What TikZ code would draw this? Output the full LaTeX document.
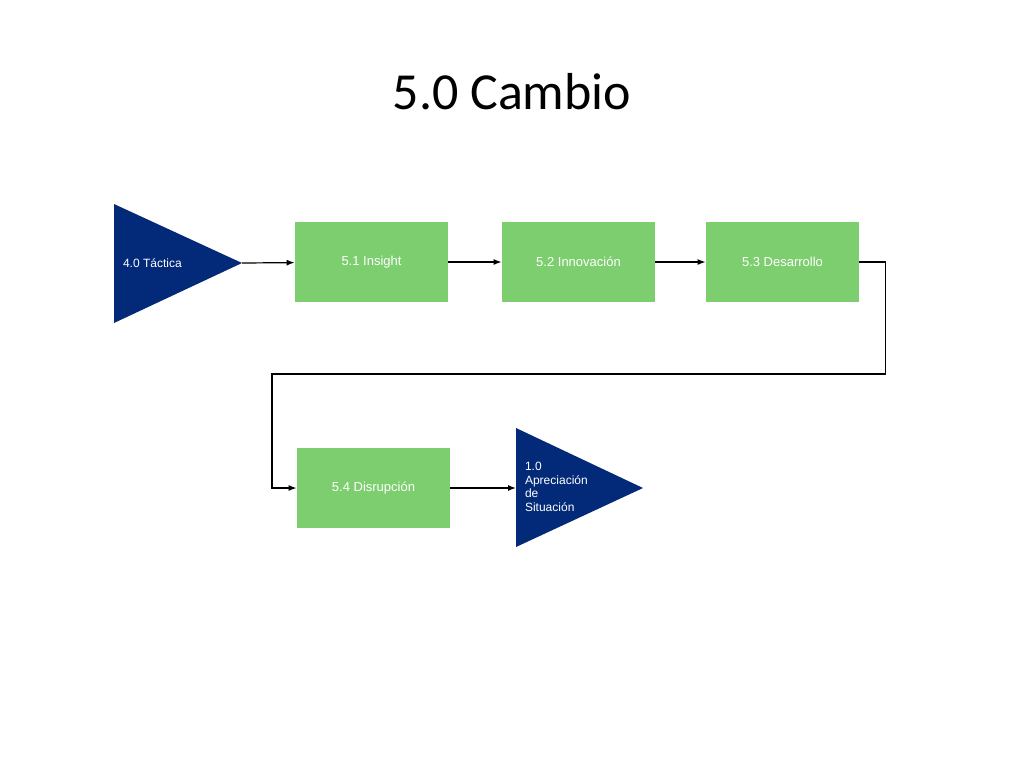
\documentclass[tikz,border=0pt]{standalone}
\usepackage{fontspec}
\setmainfont{Liberation Sans}
\newfontfamily\titlefont{Carlito}
\usetikzlibrary{arrows.meta,positioning}
\definecolor{boxgreen}{HTML}{7DCE6F}
\definecolor{triblue}{HTML}{022A78}
\tikzset{
  stage/.style={draw=none, fill=boxgreen, minimum width=76.5pt, minimum height=40pt, font=\fontsize{6.5}{8}\selectfont, text=white},
  tri/.style={fill=triblue},
  flow/.style={draw, line width=0.6pt, -{Latex[length=4pt,width=3pt]}}
}
\begin{document}
\begin{tikzpicture}[x=0.5pt,y=-0.5pt]
\useasboundingbox (0,0) rectangle (1024,768);
\node[font=\titlefont\fontsize{26}{30}\selectfont] (title) at (512,92) {5.0 Cambio};

% triangles
\fill[tri] (114,204) -- (114,323) -- (242,263) -- cycle;
\coordinate (tacticatip) at (242,263);
\node[anchor=west, text=white, font=\fontsize{6}{7}\selectfont] (tactica) at (116,263) {4.0 Táctica};
\fill[tri] (516,428) -- (516,547) -- (643,488) -- cycle;
\coordinate (aprecbase) at (516,488);
\node[anchor=west, text=white, align=left, font=\fontsize{6}{6.8}\selectfont] (aprec) at (518,487) {1.0\\Apreciación\\de\\Situación};

% boxes
\node[stage] (insight) at (371.5,262) {5.1 Insight};
\node[stage] (innov) at (578.5,262) {5.2 Innovación};
\node[stage] (desarr) at (782.5,262) {5.3 Desarrollo};
\node[stage] (disrup) at (373.5,488) {5.4 Disrupción};

% connectors
\draw[flow] (tacticatip) -- (insight);
\draw[flow] (insight) -- (innov);
\draw[flow] (innov) -- (desarr);
\draw[flow] (desarr.east) -- ++(26,0) |- (578,374) -| (272,488) -- (disrup.west);
\draw[flow] (disrup) -- (aprecbase);
\end{tikzpicture}
\end{document}
